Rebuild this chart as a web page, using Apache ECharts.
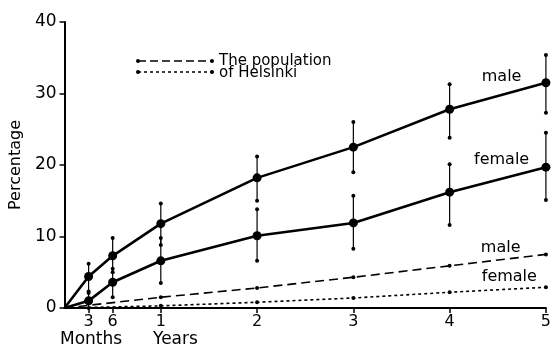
<!DOCTYPE html>
<html><head><meta charset="utf-8">
<script src="https://cdn.jsdelivr.net/npm/echarts@6/dist/echarts.min.js"></script>
<style>html,body{margin:0;padding:0;background:#fff}#c{width:554px;height:349px}</style>
</head><body><div id="c"></div>
<script>
var years = [0, 0.25, 0.5, 1, 2, 3, 4, 5];
var male = [0, 4.4, 7.3, 11.8, 18.2, 22.5, 27.8, 31.5];
var maleLow = [null, 2.3, 5.0, 8.8, 15.0, 19.0, 23.8, 27.3];
var maleHigh = [null, 6.2, 9.8, 14.6, 21.2, 26.0, 31.3, 35.4];
var female = [0, 1.0, 3.6, 6.6, 10.1, 11.9, 16.2, 19.7];
var femaleLow = [null, 0, 1.5, 3.5, 6.6, 8.3, 11.6, 15.1];
var femaleHigh = [null, 2.1, 5.5, 9.8, 13.8, 15.7, 20.1, 24.5];
var popYears = [0, 1, 2, 3, 4, 5];
var popMale = [0, 1.5, 2.8, 4.3, 5.9, 7.5];
var popFemale = [0, 0.3, 0.8, 1.4, 2.2, 2.9];
var xTicks = [0.25, 0.5, 1, 2, 3, 4, 5];
var xTickLabels = {0.25: '3', 0.5: '6', 1: '1', 2: '2', 3: '3', 4: '4', 5: '5'};

var FONT = '"DejaVu Sans", sans-serif';
function pairs(xs, ys) { return xs.map(function (x, i) { return [x, ys[i]]; }); }
function errData(lo, hi) {
  var out = [];
  years.forEach(function (x, i) { if (lo[i] != null) out.push([x, lo[i], hi[i]]); });
  return out;
}
function errRender(params, api) {
  var p1 = api.coord([api.value(0), api.value(1)]);
  var p2 = api.coord([api.value(0), api.value(2)]);
  return {
    type: 'group',
    children: [
      {type: 'line', shape: {x1: p1[0], y1: p1[1], x2: p2[0], y2: p2[1]}, style: {stroke: '#000', lineWidth: 1.2}},
      {type: 'circle', shape: {cx: p1[0], cy: p1[1], r: 2}, style: {fill: '#000'}},
      {type: 'circle', shape: {cx: p2[0], cy: p2[1], r: 2}, style: {fill: '#000'}}
    ]
  };
}
function mainSeries(vals) {
  return {
    type: 'line', data: pairs(years, vals).map(function (d, i) {
      return i === 0 ? {value: d, symbol: 'none'} : d;
    }),
    symbol: 'circle', symbolSize: 9, showSymbol: true,
    itemStyle: {color: '#000'}, lineStyle: {color: '#000', width: 2.6},
    z: 5, silent: true, animation: false
  };
}
function popSeries(vals, dash) {
  return {
    type: 'line', data: pairs(popYears, vals).map(function (d, i) {
      return i === 0 ? {value: d, symbol: 'none'} : d;
    }),
    symbol: 'circle', symbolSize: 4,
    itemStyle: {color: '#000'}, lineStyle: {color: '#000', width: 1.6, type: dash},
    z: 3, silent: true, animation: false
  };
}
function textLabel(coord, text) {
  return {
    type: 'scatter', data: [coord], symbolSize: 0, silent: true, animation: false,
    itemStyle: {opacity: 1, color: '#000'},
    label: {show: true, position: 'inside', formatter: text, color: '#000', opacity: 1, fontSize: 16, fontFamily: FONT}
  };
}

var chart = echarts.init(document.getElementById('c'), null, {renderer: 'canvas'});
chart.setOption({
  animation: false,
  backgroundColor: '#fff',
  grid: {left: 62, right: 7, top: 22, bottom: 41, containLabel: false},
  xAxis: {
    type: 'value', min: 0, max: 5,
    axisLine: {show: true, onZero: false, lineStyle: {color: '#000', width: 2}},
    axisTick: {show: true, customValues: xTicks, length: 5, lineStyle: {color: '#000', width: 1.5}},
    axisLabel: {customValues: xTicks, formatter: function (v) { return xTickLabels[v] || ''; },
      color: '#000', fontSize: 16, fontFamily: FONT, margin: 6},
    splitLine: {show: false}
  },
  yAxis: {
    type: 'value', min: 0, max: 40, interval: 10,
    name: 'Percentage', nameLocation: 'middle', nameGap: 40, nameRotate: 90,
    nameTextStyle: {color: '#000', fontSize: 16, fontFamily: FONT},
    axisLine: {show: true, onZero: false, lineStyle: {color: '#000', width: 2}},
    axisTick: {show: true, length: 5, lineStyle: {color: '#000', width: 1.5}},
    axisLabel: {color: '#000', fontSize: 17, fontFamily: FONT, margin: 8},
    splitLine: {show: false}
  },
  series: [
    {type: 'custom', renderItem: errRender, data: errData(maleLow, maleHigh), encode: {x: 0, y: [1, 2]}, z: 4, silent: true, animation: false},
    {type: 'custom', renderItem: errRender, data: errData(femaleLow, femaleHigh), encode: {x: 0, y: [1, 2]}, z: 4, silent: true, animation: false},
    mainSeries(male),
    mainSeries(female),
    popSeries(popMale, [9, 5]),
    popSeries(popFemale, [3, 3]),
    textLabel([4.54, 32.3], 'male'),
    textLabel([4.54, 20.7], 'female'),
    textLabel([4.53, 8.4], 'male'),
    textLabel([4.62, 4.3], 'female')
  ],
  graphic: [
    {type: 'line', shape: {x1: 138, y1: 61, x2: 212, y2: 61}, style: {stroke: '#000', lineWidth: 1.5, lineDash: [8, 4]}},
    {type: 'circle', shape: {cx: 138, cy: 61, r: 2}, style: {fill: '#000'}},
    {type: 'circle', shape: {cx: 212, cy: 61, r: 2}, style: {fill: '#000'}},
    {type: 'line', shape: {x1: 138, y1: 72, x2: 212, y2: 72}, style: {stroke: '#000', lineWidth: 1.5, lineDash: [3, 3]}},
    {type: 'circle', shape: {cx: 138, cy: 72, r: 2}, style: {fill: '#000'}},
    {type: 'circle', shape: {cx: 212, cy: 72, r: 2}, style: {fill: '#000'}},
    {type: 'text', left: 219, top: 54, style: {text: 'The population\nof Helsinki', fill: '#000', fontSize: 15, lineHeight: 12, fontFamily: FONT}},
    {type: 'text', left: 60, top: 331, style: {text: 'Months', fill: '#000', fontSize: 17, fontFamily: FONT}},
    {type: 'text', left: 153, top: 331, style: {text: 'Years', fill: '#000', fontSize: 17, fontFamily: FONT}}
  ]
});
</script></body></html>
